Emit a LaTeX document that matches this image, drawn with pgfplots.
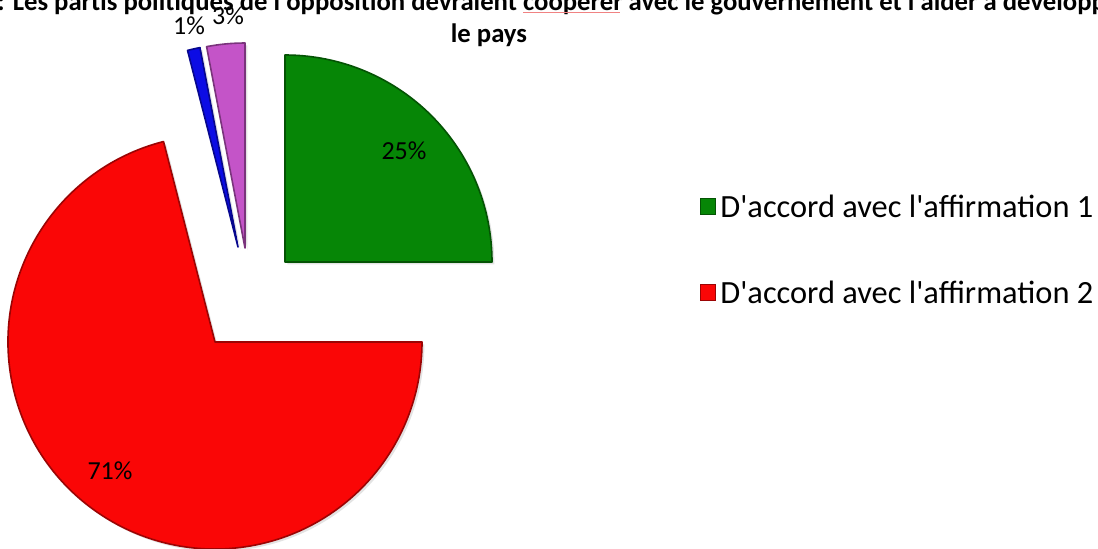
\documentclass[border=0pt]{standalone}
\usepackage{fontspec}
\setmainfont{Carlito}
\usepackage{pgfplots}
\pgfplotsset{compat=1.18}
\usepackage{pgfplotstable}
\usetikzlibrary{shadows}
\definecolor{cgreen}{RGB}{6,134,6}
\definecolor{cred}{RGB}{250,6,6}
\definecolor{cblue}{RGB}{12,12,228}
\definecolor{cpink}{RGB}{196,84,200}
\definecolor{squig}{RGB}{240,130,130}
\newcommand\q{\textquotesingle}
% slices: percentage, cumulative start (%), apex x, apex y (px), radius (px)
\pgfplotstableread{
pct start cx  cy  r
25  0     285 262 207
3   25    245 248 205
1   28    238 247 203
71  29    215 342 207
}\slicedata
\newcommand\slice[2]{%
  \pgfplotstablegetelem{#1}{pct}\of\slicedata\edef\slP{\pgfplotsretval}%
  \pgfplotstablegetelem{#1}{start}\of\slicedata\edef\slS{\pgfplotsretval}%
  \pgfplotstablegetelem{#1}{cx}\of\slicedata\edef\slX{\pgfplotsretval}%
  \pgfplotstablegetelem{#1}{cy}\of\slicedata\edef\slY{\pgfplotsretval}%
  \pgfplotstablegetelem{#1}{r}\of\slicedata\edef\slR{\pgfplotsretval}%
  \pgfmathsetmacro\slA{3.6*\slS}%
  \pgfmathsetmacro\slE{3.6*(\slS+\slP)}%
  \pgfmathsetmacro\slRR{\slR/2}%
  \edef\sltmp{\noexpand\filldraw[fill=#2, draw=#2!62!black, line width=0.8pt, line join=round,
     drop shadow={opacity=0.22, shadow xshift=1.2pt, shadow yshift=-1.2pt}]
     (axis cs:\slX,\slY) -- ++(\slA:\slRR pt) arc[start angle=\slA, end angle=\slE, radius=\slRR pt] -- cycle;}%
  \sltmp}
\begin{document}
\begin{tikzpicture}
\clip (0,0) rectangle (549pt,274pt);
\begin{axis}[at={(0,0)}, anchor=south west, width=549pt, height=274pt,
  scale only axis, xmin=0, xmax=1098, ymin=0, ymax=548, y dir=reverse,
  axis lines=none, clip=false]
\slice{0}{cgreen}
\slice{1}{cpink}
\slice{2}{cblue}
\slice{3}{cred}
% data labels
\node[font=\fontsize{13pt}{15pt}\selectfont] at (axis cs:404,151) {25\%};
\node[font=\fontsize{13pt}{15pt}\selectfont] at (axis cs:110,471) {71\%};
\node[font=\fontsize{13pt}{15pt}\selectfont] at (axis cs:189,26) {1\%};
\node[font=\fontsize{13pt}{15pt}\selectfont] at (axis cs:228,16) {3\%};
% title
\node[anchor=base west, inner sep=0, font=\bfseries\fontsize{13.35pt}{16pt}\selectfont] at (axis cs:-3,10)
  {: Les partis politiques de l\q opposition devraient coopérer avec le gouvernement et l\q aider à développer};
\draw[squig, line width=0.5pt] (axis cs:523,12.5) -- (axis cs:620,12.5);
\node[anchor=base, inner sep=0, font=\bfseries\fontsize{13.35pt}{16pt}\selectfont] at (axis cs:489,42) {le pays};
% legend
\filldraw[fill=cgreen, draw=cgreen!62!black, line width=0.5pt] (axis cs:700,198) rectangle (axis cs:715,214);
\node[anchor=west, inner sep=0, font=\fontsize{16.2pt}{19pt}\selectfont] at (axis cs:720,206) {D\q accord avec l\q affirmation 1};
\filldraw[fill=cred, draw=cred!62!black, line width=0.5pt] (axis cs:700,284) rectangle (axis cs:715,300);
\node[anchor=west, inner sep=0, font=\fontsize{16.2pt}{19pt}\selectfont] at (axis cs:720,292) {D\q accord avec l\q affirmation 2};
\end{axis}
\end{tikzpicture}
\end{document}
